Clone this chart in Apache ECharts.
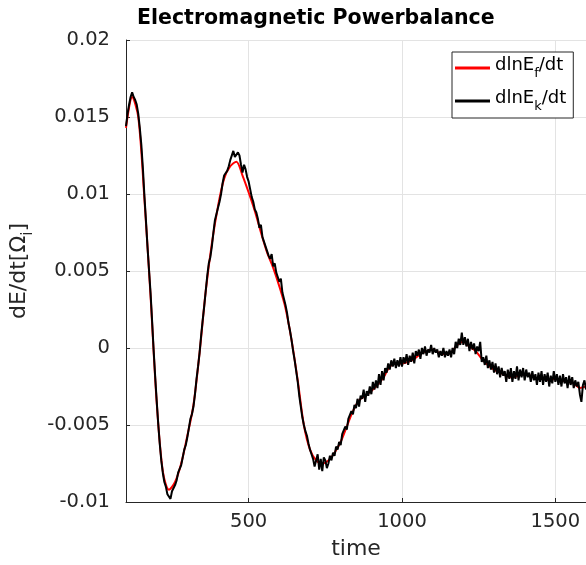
<!DOCTYPE html>
<html>
<head>
<meta charset="utf-8">
<script src="https://cdn.jsdelivr.net/npm/echarts@6/dist/echarts.min.js"></script>
<style>
  html, body { margin: 0; padding: 0; background: #fff; }
  #chart { width: 586px; height: 565px; }
</style>
</head>
<body>
<div id="chart"></div>
<script>
// dlnE_f/dt, sampled every 20 time units from t=100
var tStartF = 100, tStepF = 20;
var dlnEf = [
  0.0143, 0.0163, 0.0150, 0.0097, 0.0034, -0.0035, -0.0080, -0.0092, -0.0087, -0.0075,
  -0.0057, -0.0037, -0.0003, 0.0037, 0.0068, 0.0092, 0.0110, 0.0118, 0.0121, 0.0112,
  0.0101, 0.0089, 0.0075, 0.0062, 0.0052, 0.0040, 0.0026, 0.0005, -0.0021, -0.0050,
  -0.0066, -0.0073, -0.0075, -0.0073, -0.0068, -0.0061, -0.0051, -0.0041, -0.0034, -0.0031,
  -0.0028, -0.0024, -0.0019, -0.0012, -0.0010, -0.0010, -0.0009, -0.0007, -0.0004, -0.0002,
  -0.0001, -0.0003, -0.0004, -0.0003, 0.0002, 0.0004, 0.0001, -0.0002, -0.0007, -0.0011,
  -0.0014, -0.0016, -0.0018, -0.0019, -0.0018, -0.0017, -0.0018, -0.0020, -0.0020, -0.0021,
  -0.0020, -0.0021, -0.0022, -0.0023, -0.0026, -0.0025
];

// dlnE_k/dt, sampled every 5 time units from t=100
var tStartK = 100, tStepK = 5;
var dlnEk = [
  0.0144, 0.0152, 0.0158, 0.0163, 0.0166, 0.0163, 0.0161, 0.0158, 0.0152, 0.0143,
  0.0132, 0.0117, 0.0099, 0.0083, 0.0066, 0.0051, 0.0036, 0.0018, -0.0001, -0.0018,
  -0.0034, -0.0049, -0.0062, -0.0073, -0.0081, -0.0087, -0.0090, -0.0095, -0.0094, -0.0098,
  -0.0093, -0.0094, -0.0089, -0.0086, -0.0081, -0.0080, -0.0076, -0.0071, -0.0066, -0.0063,
  -0.0058, -0.0052, -0.0046, -0.0043, -0.0038, -0.0030, -0.0020, -0.0012, -0.0003, 0.0008,
  0.0018, 0.0027, 0.0037, 0.0047, 0.0055, 0.0059, 0.0066, 0.0075, 0.0083, 0.0087,
  0.0091, 0.0095, 0.0100, 0.0107, 0.0112, 0.0111, 0.0115, 0.0118, 0.0122, 0.0121,
  0.0128, 0.0124, 0.0123, 0.0127, 0.0125, 0.0119, 0.0114, 0.0119, 0.0116, 0.0111,
  0.0108, 0.0103, 0.0098, 0.0095, 0.0090, 0.0088, 0.0084, 0.0078, 0.0080, 0.0072,
  0.0071, 0.0066, 0.0065, 0.0060, 0.0058, 0.0061, 0.0053, 0.0055, 0.0049, 0.0050,
  0.0043, 0.0045, 0.0036, 0.0037, 0.0028, 0.0023, 0.0016, 0.0011, 0.0005, -0.0002,
  -0.0008, -0.0015, -0.0022, -0.0031, -0.0038, -0.0045, -0.0050, -0.0054, -0.0057, -0.0062,
  -0.0066, -0.0069, -0.0072, -0.0077, -0.0076, -0.0069, -0.0079, -0.0072, -0.0080, -0.0071,
  -0.0073, -0.0078, -0.0075, -0.0070, -0.0073, -0.0068, -0.0070, -0.0064, -0.0066, -0.0061,
  -0.0063, -0.0056, -0.0057, -0.0051, -0.0053, -0.0046, -0.0047, -0.0041, -0.0043, -0.0037,
  -0.0039, -0.0033, -0.0038, -0.0031, -0.0033, -0.0027, -0.0035, -0.0028, -0.0031, -0.0025,
  -0.0030, -0.0022, -0.0027, -0.0021, -0.0026, -0.0017, -0.0024, -0.0015, -0.0021, -0.0013,
  -0.0016, -0.0010, -0.0014, -0.0008, -0.0012, -0.0007, -0.0013, -0.0008, -0.0012, -0.0006,
  -0.0012, -0.0006, -0.0010, -0.0004, -0.0011, -0.0005, -0.0009, -0.0003, -0.0010, -0.0002,
  -0.0005, -0.0001, -0.0007, 0.0000, -0.0004, 0.0001, -0.0005, -0.0001, -0.0003, 0.0002,
  -0.0004, 0.0000, -0.0003, -0.0001, -0.0006, -0.0002, -0.0005, 0.0000, -0.0006, -0.0002,
  -0.0005, -0.0001, -0.0006, 0.0000, -0.0004, 0.0004, 0.0000, 0.0006, 0.0002, 0.0010,
  0.0002, 0.0007, 0.0001, 0.0006, -0.0002, 0.0004, -0.0001, 0.0003, -0.0004, 0.0001,
  -0.0002, 0.0004, -0.0009, -0.0006, -0.0011, -0.0005, -0.0013, -0.0008, -0.0014, -0.0009,
  -0.0016, -0.0010, -0.0017, -0.0012, -0.0019, -0.0013, -0.0018, -0.0015, -0.0022, -0.0014,
  -0.0020, -0.0013, -0.0022, -0.0015, -0.0020, -0.0012, -0.0021, -0.0014, -0.0019, -0.0013,
  -0.0021, -0.0014, -0.0019, -0.0016, -0.0022, -0.0015, -0.0021, -0.0017, -0.0024, -0.0016,
  -0.0022, -0.0015, -0.0024, -0.0017, -0.0022, -0.0016, -0.0025, -0.0018, -0.0023, -0.0015,
  -0.0022, -0.0017, -0.0024, -0.0018, -0.0025, -0.0017, -0.0023, -0.0019, -0.0026, -0.0018,
  -0.0024, -0.0019, -0.0026, -0.0021, -0.0025, -0.0022, -0.0030, -0.0035, -0.0024, -0.0021,
  -0.0027
];

var xTicks = [500, 1000, 1500];

function pairs(t0, dt, vals) {
  var out = [];
  for (var i = 0; i < vals.length; i++) {
    out.push([t0 + i * dt, vals[i]]);
  }
  return out;
}

var chart = echarts.init(document.getElementById('chart'));
var font = 'DejaVu Sans';
var axisColor = '#262626';

option = {
  animation: false,
  backgroundColor: '#fff',
  title: {
    text: 'Electromagnetic Powerbalance',
    left: 132,
    top: 3,
    textStyle: { fontFamily: font, fontSize: 20.5, fontWeight: 'bold', color: '#000' }
  },
  legend: {
    orient: 'vertical',
    left: 452,
    top: 52,
    padding: [4, 7, 5, 3],
    itemGap: 9,
    itemWidth: 35,
    itemHeight: 3,
    icon: 'rect',
    backgroundColor: '#fff',
    borderColor: axisColor,
    borderWidth: 1,
    borderRadius: 0,
    data: ['dlnEf', 'dlnEk'],
    formatter: function (name) {
      return name === 'dlnEf' ? '{a|dlnE}{s|f}{a|/dt}' : '{a|dlnE}{s|k}{a|/dt}';
    },
    textStyle: {
      fontFamily: font,
      fontSize: 18,
      color: '#000',
      rich: {
        a: { fontFamily: font, fontSize: 18, color: '#000', lineHeight: 24, verticalAlign: 'top' },
        s: { fontFamily: font, fontSize: 13, color: '#000', lineHeight: 24, padding: [11, 0, 0, 0], verticalAlign: 'top' }
      }
    }
  },
  grid: { left: 126, right: -1, top: 40, bottom: 60, containLabel: false },
  xAxis: {
    type: 'value',
    min: 100,
    max: 1600,
    name: 'time',
    nameLocation: 'middle',
    nameGap: 36,
    nameTextStyle: { fontFamily: font, fontSize: 22, color: axisColor },
    axisLine: { show: true, onZero: false, lineStyle: { color: axisColor, width: 1 } },
    axisTick: { show: true, inside: true, length: 4, lineStyle: { color: axisColor }, customValues: xTicks },
    axisLabel: {
      fontFamily: font, fontSize: 19.5, color: axisColor, margin: 10, customValues: xTicks,
      formatter: function (v) { return String(v); }
    },
    splitLine: { show: true, lineStyle: { color: '#e3e3e3', width: 1 } }
  },
  yAxis: {
    type: 'value',
    min: -0.01,
    max: 0.02,
    interval: 0.005,
    name: '{n|dE/dt[Ω}{s|i}{n|]}',
    nameLocation: 'middle',
    nameGap: 90,
    nameRotate: 90,
    nameTextStyle: {
      fontFamily: font, fontSize: 22, color: axisColor,
      rich: {
        n: { fontFamily: font, fontSize: 22, color: axisColor, lineHeight: 28, verticalAlign: 'top' },
        s: { fontFamily: font, fontSize: 15, color: axisColor, lineHeight: 28, padding: [13, 0, 0, 0], verticalAlign: 'top' }
      }
    },
    axisLine: { show: true, onZero: false, lineStyle: { color: axisColor, width: 1 } },
    axisTick: { show: true, inside: true, length: 4, lineStyle: { color: axisColor } },
    axisLabel: {
      fontFamily: font, fontSize: 19.5, color: axisColor, margin: 16,
      formatter: function (v) { return String(parseFloat(v.toFixed(4))); }
    },
    splitLine: { show: true, lineStyle: { color: '#e3e3e3', width: 1 } }
  },
  series: [
    {
      name: 'dlnEf',
      type: 'line',
      data: pairs(tStartF, tStepF, dlnEf),
      smooth: 0.3,
      showSymbol: false,
      symbol: 'none',
      lineStyle: { color: '#ff0000', width: 2 },
      itemStyle: { color: '#ff0000' },
      z: 2
    },
    {
      name: 'dlnEk',
      type: 'line',
      data: pairs(tStartK, tStepK, dlnEk),
      showSymbol: false,
      symbol: 'none',
      lineStyle: { color: '#000000', width: 2 },
      itemStyle: { color: '#000000' },
      z: 3
    }
  ]
};

if (option && typeof option === 'object') {
  chart.setOption(option, true);
}
</script>
</body>
</html>
